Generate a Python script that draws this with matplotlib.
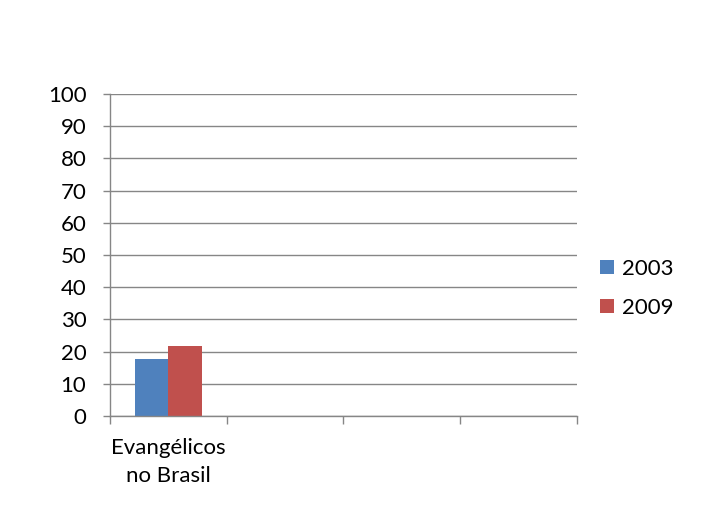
import matplotlib
matplotlib.use("Agg")
import matplotlib.pyplot as plt
import numpy as np

plt.rcParams['font.family'] = ['Lato', 'DejaVu Sans']

categorias = ["Evangélicos\nno Brasil", "", "", ""]
anos = ["2003", "2009"]
valores_2003 = [17.7, np.nan, np.nan, np.nan]
valores_2009 = [21.8, np.nan, np.nan, np.nan]
cores = ["#4F81BD", "#C0504D"]
cinza = "#868686"

fig = plt.figure(figsize=(7.07, 5.24), dpi=100)
ax = fig.add_axes([0.1556, 0.2061, 0.6605, 0.6145])

x = np.arange(len(categorias))
w = 0.29
ax.bar(x - w / 2, valores_2003, w, color=cores[0], label=anos[0])
ax.bar(x + w / 2, valores_2009, w, color=cores[1], label=anos[1])

ax.set_xlim(-0.5, len(categorias) - 0.5)
ax.set_ylim(0, 100)
ax.set_yticks(np.arange(0, 101, 10))
ax.yaxis.grid(True, color=cinza, linewidth=1)
ax.set_axisbelow(True)

ax.set_xticks(x)
ax.set_xticklabels(categorias, fontsize=16, linespacing=1.5)
ax.set_xticks(np.arange(-0.5, len(categorias)), minor=True)
ax.tick_params(axis="x", which="major", length=0, pad=16)
ax.tick_params(axis="x", which="minor", length=6, color=cinza, width=1)
ax.tick_params(axis="y", length=5, color=cinza, width=1, labelsize=16, pad=12)

for s in ["top", "right"]:
    ax.spines[s].set_visible(False)
for s in ["left", "bottom"]:
    ax.spines[s].set_color(cinza)
    ax.spines[s].set_linewidth(1)

fig.legend(loc="center left", bbox_to_anchor=(0.827, 0.45), frameon=False,
           fontsize=16, handlelength=0.6, handleheight=0.6, handletextpad=0.4,
           labelspacing=0.85, borderpad=0.2)

fig.savefig("out.png", dpi=100)
